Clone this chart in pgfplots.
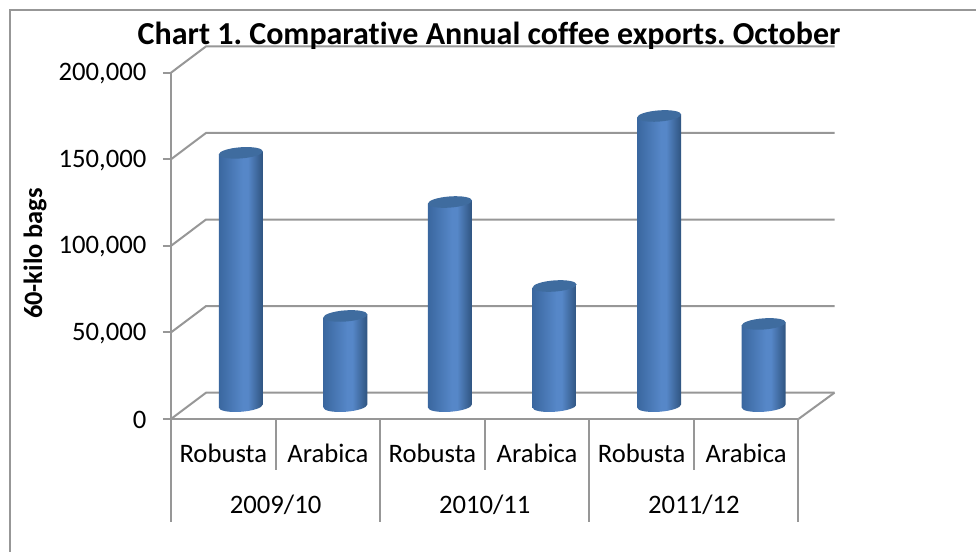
\documentclass[border=0pt]{standalone}
\usepackage{pgfplots}
\usepackage{pgfplotstable}
\usepackage{fontspec}
\pgfplotsset{compat=1.18}
\setmainfont[Ligatures=NoCommon]{Carlito}
\frenchspacing

\definecolor{wallgray}{HTML}{979797}
\definecolor{cyltop}{HTML}{3F6C9F}
\definecolor{cylL}{HTML}{3A679F}
\definecolor{cylM}{HTML}{5687C8}
\definecolor{cylR}{HTML}{2F5480}

% horizontal light falloff across a cylinder's side
\pgfdeclarehorizontalshading{cylside}{100bp}{
  color(0bp)=(cylL); color(25bp)=(cylL); color(52bp)=(cylM);
  color(58bp)=(cylM); color(75bp)=(cylR); color(100bp)=(cylR)}

\pgfdeclareplotmark{cylblank}{}

\newlength{\un}
\setlength{\un}{0.75pt}

\pgfplotstableread{
pos bags
0 146200
1 52000
2 117800
3 69300
4 167500
5 47400
}\exports

\begin{document}
\begin{tikzpicture}[x=\un,y=\un]
\useasboundingbox (0,0) rectangle (976,552);
% outer chart border, cut off by the page at right and bottom
\draw[wallgray,line width=2\un] (10,0) -- (10,542) -- (976,542);

% front plane: scale, tick labels and the back walls
\begin{axis}[
  at={(171\un,133\un)}, anchor=south west,
  scale only axis, width=627.5\un, height=346.3\un,
  clip=false,
  xmin=-0.5, xmax=5.5, ymin=0, ymax=200000,
  axis x line*=bottom, axis y line*=left,
  axis line style={wallgray,line width=2\un,-},
  tick style={wallgray,line width=2\un},
  tick align=outside, major tick length=8\un,
  xtick={0,1,2,3,4,5},
  xticklabels={Robusta,Arabica,Robusta,Arabica,Robusta,Arabica},
  xtick style={draw=none},
  ytick={0,50000,100000,150000,200000},
  scaled y ticks=false,
  /pgf/number format/assume math mode=true,
  /pgf/number format/fixed,
  /pgf/number format/1000 sep={,},
  tick label style={font=\fontsize{20}{24}\selectfont},
  x tick label style={anchor=center,yshift=-26\un},
  y tick label style={xshift=-12\un,yshift=-1\un},
  title={Chart 1. Comparative Annual coffee exports. October},
  title style={font=\fontsize{24}{28}\selectfont\bfseries,
    at={(axis description cs:0.507,1.084)},anchor=center},
  ylabel={60-kilo bags},
  every axis y label/.style={at={(axis description cs:-0.2167,0.478)},
    rotate=90,anchor=center,font=\fontsize{19.8}{24}\selectfont\bfseries},
]
% gridlines run along the left wall and then across the back wall
\pgfplotsinvokeforeach{0,50000,100000,150000,200000}{
  \draw[wallgray,line width=2\un]
    (axis cs:-0.5,#1) -- ++(35\un,26.3\un) -- ++(628.5\un,0pt);
}
\draw[wallgray,line width=2\un] (axis cs:5.5,0) -- ++(36\un,26.3\un);
% category separators below the floor
\pgfplotsinvokeforeach{0.5,2.5,4.5}{
  \draw[wallgray,line width=2\un] (axis cs:#1,0) -- ++(0pt,-51\un);
}
\pgfplotsinvokeforeach{-0.5,1.5,3.5,5.5}{
  \draw[wallgray,line width=2\un] (axis cs:#1,0) -- ++(0pt,-103\un);
}
\node[font=\fontsize{20}{24}\selectfont] at (axis cs:0.5,0) [yshift=-86\un] {2009/10};
\node[font=\fontsize{20}{24}\selectfont] at (axis cs:2.5,0) [yshift=-86\un] {2010/11};
\node[font=\fontsize{20}{24}\selectfont] at (axis cs:4.5,0) [yshift=-86\un] {2011/12};
\end{axis}

% mid-depth plane: one cylinder per value, its height taken from the value;
% the slant lifts each cylinder's right rim, as seen from the left
\begin{axis}[
  at={(188.5\un,146\un)}, anchor=south west,
  scale only axis, width=627.5\un, height=346.3\un,
  clip=false, hide axis,
  xmin=-0.5, xmax=5.5, ymin=0, ymax=200000,
]
\addplot[
  only marks, mark=cylblank, scatter,
  point meta=y, point meta min=0, point meta max=200000,
  scatter/@pre marker code/.code={%
    \pgfmathsetmacro{\cylh}{\pgfplotspointmetatransformed*0.3463}%
    \pgftransformcm{1}{0.07}{0}{1}{\pgfpointorigin}%
    \path[draw=none,shading=cylside,x=\un,y=\un]
      (-22,0) -- (-22,-\cylh)
      arc[start angle=180,end angle=360,x radius=22,y radius=5.8]
      -- (22,0) -- cycle;
    \path[draw=none,fill=cyltop,x=\un,y=\un] (0,0) ellipse [x radius=22,y radius=5.6];
  },
  scatter/@post marker code/.code={},
] table[x=pos,y=bags] {\exports};
\end{axis}
\end{tikzpicture}
\end{document}
